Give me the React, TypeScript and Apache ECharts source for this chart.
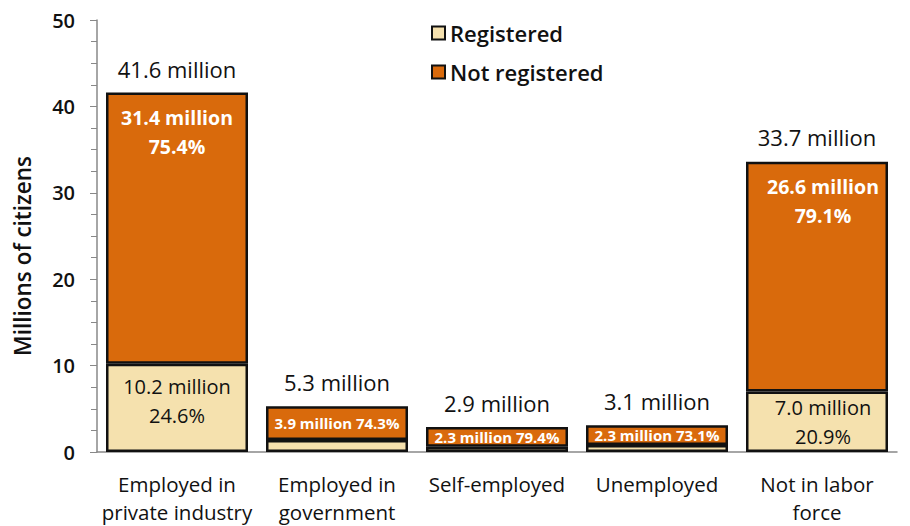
import React, { useEffect, useRef } from "react";
import * as echarts from "echarts";

const categories = [
  "Employed in\nprivate industry",
  "Employed in\ngovernment",
  "Self-employed",
  "Unemployed",
  "Not in labor\nforce",
];
const registered = [10.2, 1.4, 0.6, 0.8, 7.0];
const notRegistered = [31.4, 3.9, 2.3, 2.3, 26.6];
const totals = [41.6, 5.3, 2.9, 3.1, 33.7];
const registeredPct = [24.6, 25.7, 20.6, 26.9, 20.9];
const notRegisteredPct = [75.4, 74.3, 79.4, 73.1, 79.1];
const yTicks = [0, 10, 20, 30, 40, 50];

const FONT = "Open Sans";
const REG = "#F5E1AE";
const NOTREG = "#D96A0C";

export default function App() {
  const ref = useRef<HTMLDivElement>(null);
  useEffect(() => {
    if (!ref.current) return;
    const chart = echarts.init(ref.current, undefined, { renderer: "svg" });
    const big = (v: number) => v >= 5;
    chart.setOption({
      animation: false,
      textStyle: { fontFamily: FONT },
      grid: { left: 97, right: 13, top: 20, bottom: 71 },
      legend: {
        orient: "vertical",
        left: 426,
        top: 17,
        itemWidth: 13,
        itemHeight: 13,
        itemGap: 17,
        icon: "rect",
        textStyle: { fontSize: 22, fontWeight: 600, color: "#111", fontFamily: FONT },
        data: [
          { name: "Registered", itemStyle: { color: REG, borderColor: "#111", borderWidth: 2 } },
          { name: "Not registered", itemStyle: { color: NOTREG, borderColor: "#111", borderWidth: 2 } },
        ],
      },
      graphic: [
        {
          type: "text",
          x: 22,
          y: 256,
          rotation: Math.PI / 2,
          style: {
            text: "Millions of citizens",
            fontSize: 22.5,
            fontWeight: 600,
            fontFamily: FONT,
            fill: "#111",
            textAlign: "center",
            textVerticalAlign: "middle",
          },
        },
      ],
      xAxis: {
        type: "category",
        data: categories,
        axisLine: { lineStyle: { color: "#888", width: 1.5 } },
        axisTick: { show: false },
        axisLabel: {
          color: "#111",
          fontSize: 20.5,
          lineHeight: 28,
          margin: 18,
          fontFamily: FONT,
          interval: 0,
        },
      },
      yAxis: {
        type: "value",
        min: 0,
        max: 50,
        interval: 10,
        axisLine: { show: true, lineStyle: { color: "#888", width: 1.5 } },
        axisTick: { show: true, length: 7, lineStyle: { color: "#888" } },
        minorTick: { show: true, splitNumber: 4, length: 6, lineStyle: { color: "#888" } },
        splitLine: { show: false },
        axisLabel: {
          color: "#111",
          fontSize: 20,
          fontWeight: 600,
          margin: 22,
          fontFamily: FONT,
          formatter: (v: number) => (yTicks.includes(v) ? String(v) : ""),
        },
      },
      series: [
        {
          name: "Registered",
          type: "bar",
          stack: "total",
          barWidth: 142,
          itemStyle: { color: REG, borderColor: "#111", borderWidth: 2.5 },
          data: registered.map((v, i) => ({
            value: v,
            label: big(v)
              ? {
                  show: true,
                  position: "insideTop",
                  distance: i === 4 ? 1 : 8,
                  offset: i === 4 ? [6, 0] : [0, 0],
                  formatter: `${v.toFixed(1)} million\n${registeredPct[i]}%`,
                  color: "#111",
                  fontSize: 20,
                  lineHeight: 29,
                  fontFamily: FONT,
                }
              : { show: false },
          })),
        },
        {
          name: "Not registered",
          type: "bar",
          stack: "total",
          barWidth: 142,
          itemStyle: { color: NOTREG, borderColor: "#111", borderWidth: 2.5 },
          data: notRegistered.map((v, i) => ({
            value: v,
            label: big(v)
              ? {
                  show: true,
                  position: "insideTop",
                  distance: 10,
                  offset: i === 4 ? [6, 0] : [0, 0],
                  formatter: `${v.toFixed(1)} million\n${notRegisteredPct[i]}%`,
                  color: "#fff",
                  fontSize: 19.5,
                  fontWeight: 700,
                  lineHeight: 29,
                  fontFamily: FONT,
                }
              : {
                  show: true,
                  position: "inside",
                  formatter: `${v.toFixed(1)} million ${notRegisteredPct[i]}%`,
                  color: "#fff",
                  fontSize: 15,
                  fontWeight: 700,
                  fontFamily: FONT,
                },
          })),
        },
        {
          name: "Total",
          type: "scatter",
          symbolSize: 0,
          itemStyle: { color: "#111", opacity: 1 },
          data: totals,
          label: {
            show: true,
            position: "top",
            distance: 13,
            formatter: (p: any) => `${p.value.toFixed(1)} million`,
            color: "#111",
            fontSize: 22,
            fontFamily: FONT,
          },
        },
      ],
    });
    return () => chart.dispose();
  }, []);
  return (
    <div
      ref={ref}
      style={{ position: "absolute", left: 0, top: 0, width: 910, height: 526 }}
    />
  );
}
